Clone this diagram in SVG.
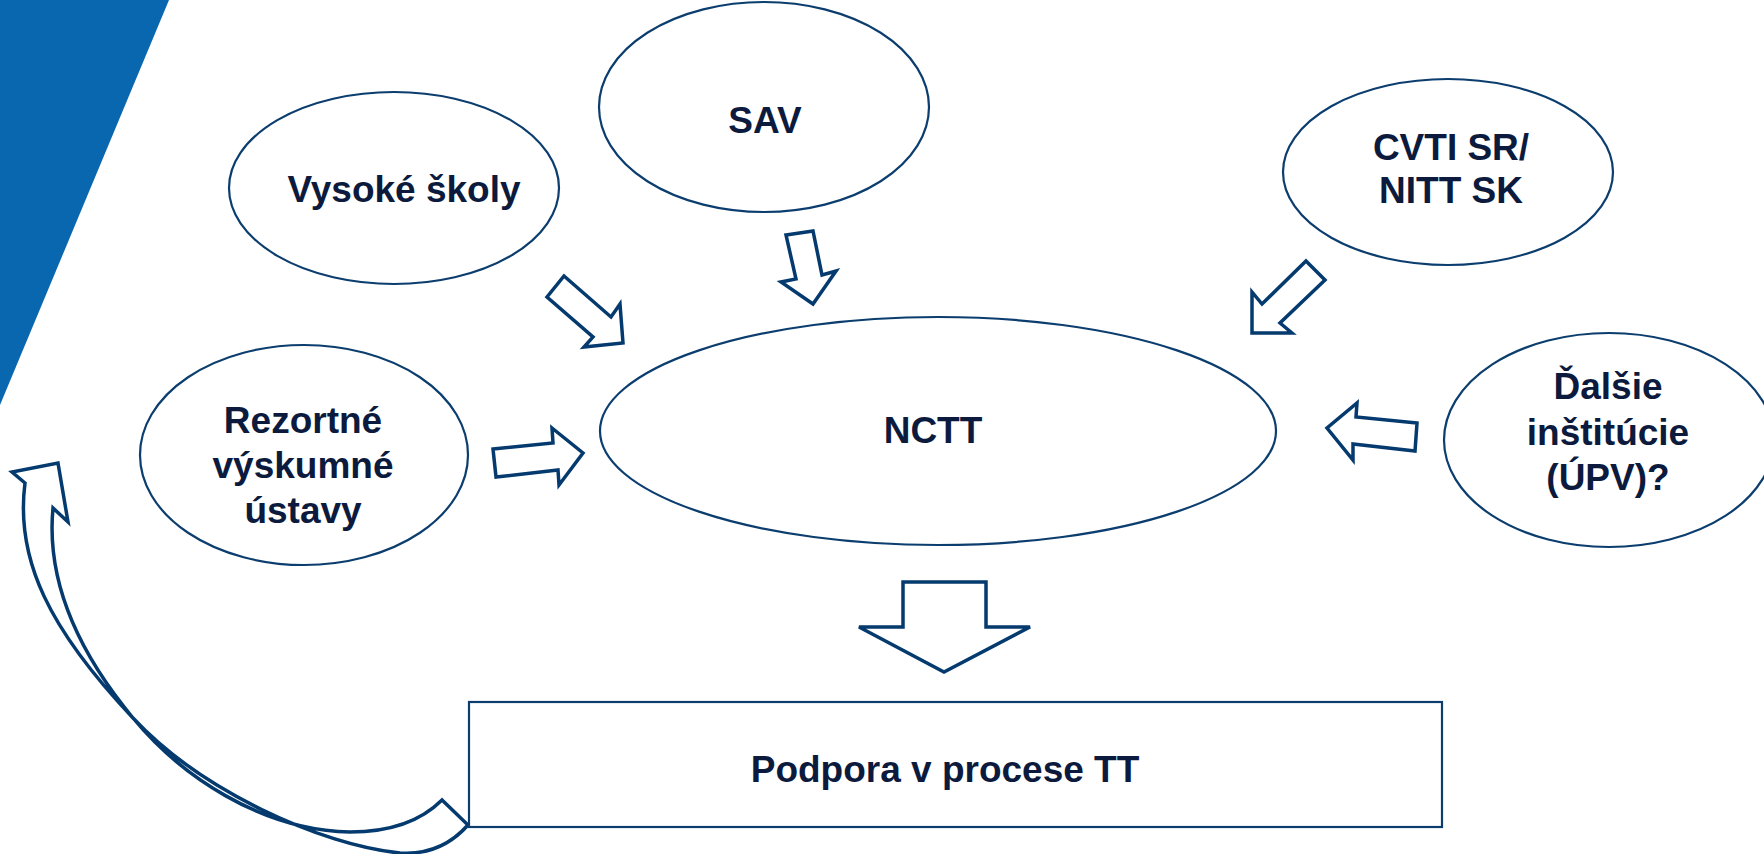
<svg xmlns="http://www.w3.org/2000/svg" width="1764" height="854" viewBox="0 0 1764 854">
<style>
.node{fill:#fff;stroke:#0B3D6E;stroke-width:2.2}
.arr{fill:#fff;stroke:#043A6E;stroke-width:3.5;stroke-linejoin:miter}
.t{font-family:"Liberation Sans",Arial,sans-serif;font-weight:bold;font-size:37px;fill:#0C1B3D;text-anchor:middle}
</style>
<rect width="1764" height="854" fill="#fff"/>
<polygon points="0,0 169,0 0,405" fill="#0967AF"/>
<g id="connectors">
<polygon class="arr" points="564,276 611,317 620,304 623,343 584,347 593,337 547,297"/>
<polygon class="arr" points="786,235 813,231 822,275 836,271 813,304 781,282 796,279"/>
<polygon class="arr" points="1306,261 1325,280 1280,323 1292,333 1252,333 1252,292 1262,304"/>
<polygon class="arr" points="1417,423 1356,417 1357,403 1327,428 1353,460 1353,444 1415,451"/>
<polygon class="arr" points="493,449 553,443 552,428 583,453 559,485 558,470 496,477"/>
<polygon class="arr" points="903,582 986,582 986,627 1030,627 944,672 859,627 903,627"/>
<path class="arr" d="M25,483 L12,472 L58,463 L68,522 L53,508 C48,560 60,630 133,718 C200,790 320,845 400,853 C430,855 452,843 468,825 L442,800 C420,822 390,832 350,832 C260,830 180,775 133,718 C50,630 15,560 25,483 Z"/>
</g>
<g id="vysoke">
<ellipse class="node" cx="394" cy="188" rx="165" ry="96"/>
<text class="t" x="404" y="202">Vysoké školy</text>
</g>
<g id="sav">
<ellipse class="node" cx="764" cy="107" rx="165" ry="105"/>
<text class="t" x="765" y="133">SAV</text>
</g>
<g id="cvti">
<ellipse class="node" cx="1448" cy="172" rx="165" ry="93"/>
<text class="t" x="1451" y="160">CVTI SR/</text>
<text class="t" x="1451" y="203">NITT SK</text>
</g>
<g id="rezortne">
<ellipse class="node" cx="304" cy="455" rx="164" ry="110"/>
<text class="t" x="303" y="433">Rezortné</text>
<text class="t" x="303" y="478">výskumné</text>
<text class="t" x="303" y="523">ústavy</text>
</g>
<g id="nctt">
<ellipse class="node" cx="938" cy="431" rx="338" ry="114"/>
<text class="t" x="933" y="443">NCTT</text>
</g>
<g id="dalsie">
<ellipse class="node" cx="1609" cy="440" rx="165" ry="107"/>
<text class="t" x="1608" y="399">Ďalšie</text>
<text class="t" x="1608" y="445">inštitúcie</text>
<text class="t" x="1608" y="490">(ÚPV)?</text>
</g>
<g id="podpora">
<rect class="node" x="469" y="702" width="973" height="125"/>
<text class="t" x="945" y="782">Podpora v procese TT</text>
</g>
</svg>
